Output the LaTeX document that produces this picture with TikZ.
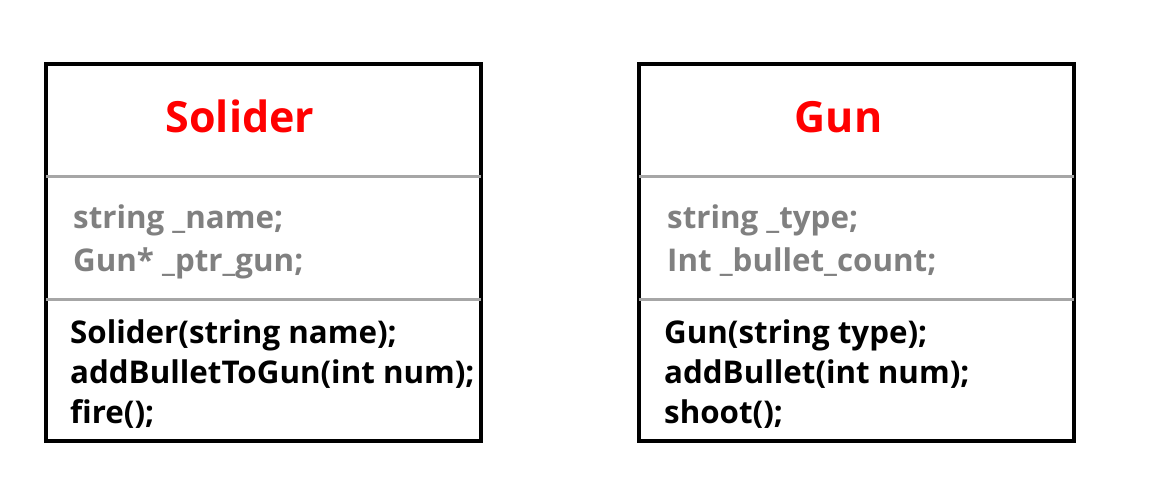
\documentclass[tikz,border=0pt]{standalone}
\usepackage{fontspec}
\setmainfont{Open Sans}
\usetikzlibrary{calc}
\definecolor{titlered}{RGB}{255,0,0}
\definecolor{sepgray}{RGB}{166,166,166}
\definecolor{attrgray}{RGB}{128,128,128}
\tikzset{
  classbox/.style={draw=black, line width=3.5pt, outer sep=0pt, minimum width=435pt, minimum height=377pt, inner sep=0pt},
  sepline/.style={draw=sepgray, line width=3pt},
  titletext/.style={inner sep=0pt, anchor=base, text=titlered, font=\fontsize{43}{50}\selectfont\bfseries},
  attrtext/.style={inner sep=0pt, anchor=base west, text=attrgray, font=\fontsize{31.3}{40}\selectfont\bfseries},
  methtext/.style={inner sep=0pt, anchor=base west, text=black, font=\fontsize{31.3}{40}\selectfont\bfseries}
}
\begin{document}
\begin{tikzpicture}[x=1pt,y=1pt]
\useasboundingbox (0,0) rectangle (1161,496);
% Solider
\node[classbox] (sbox) at (263.5,243.5) {};
\draw[sepline] ($(sbox.north west)+(0,-113)$) coordinate (s1a) -- ($(sbox.north east)+(0,-113)$) coordinate (s1b);
\draw[sepline] ($(sbox.north west)+(0,-235)$) coordinate (s2a) -- ($(sbox.north east)+(0,-235)$) coordinate (s2b);
\node[titletext] (stitle) at (240,363) {Solider};
\node[attrtext] (sa1) at (73,268) {string \_name;};
\node[attrtext] (sa2) at (73,225) {Gun* \_ptr\_gun;};
\node[methtext] (sm1) at (70,153) {Solider(string name);};
\node[methtext] (sm2) at (70,113) {addBulletToGun(int num);};
\node[methtext] (sm3) at (70,73) {fire();};
% Gun
\node[classbox] (gbox) at (856.5,243.5) {};
\draw[sepline] ($(gbox.north west)+(0,-113)$) coordinate (g1a) -- ($(gbox.north east)+(0,-113)$) coordinate (g1b);
\draw[sepline] ($(gbox.north west)+(0,-235)$) coordinate (g2a) -- ($(gbox.north east)+(0,-235)$) coordinate (g2b);
\node[titletext] (gtitle) at (838.5,363) {Gun};
\node[attrtext] (ga1) at (667,268) {string \_type;};
\node[attrtext] (ga2) at (667,225) {Int \_bullet\_count;};
\node[methtext] (gm1) at (664,153) {Gun(string type);};
\node[methtext] (gm2) at (664,113) {addBullet(int num);};
\node[methtext] (gm3) at (664,73) {shoot();};
\end{tikzpicture}
\end{document}
